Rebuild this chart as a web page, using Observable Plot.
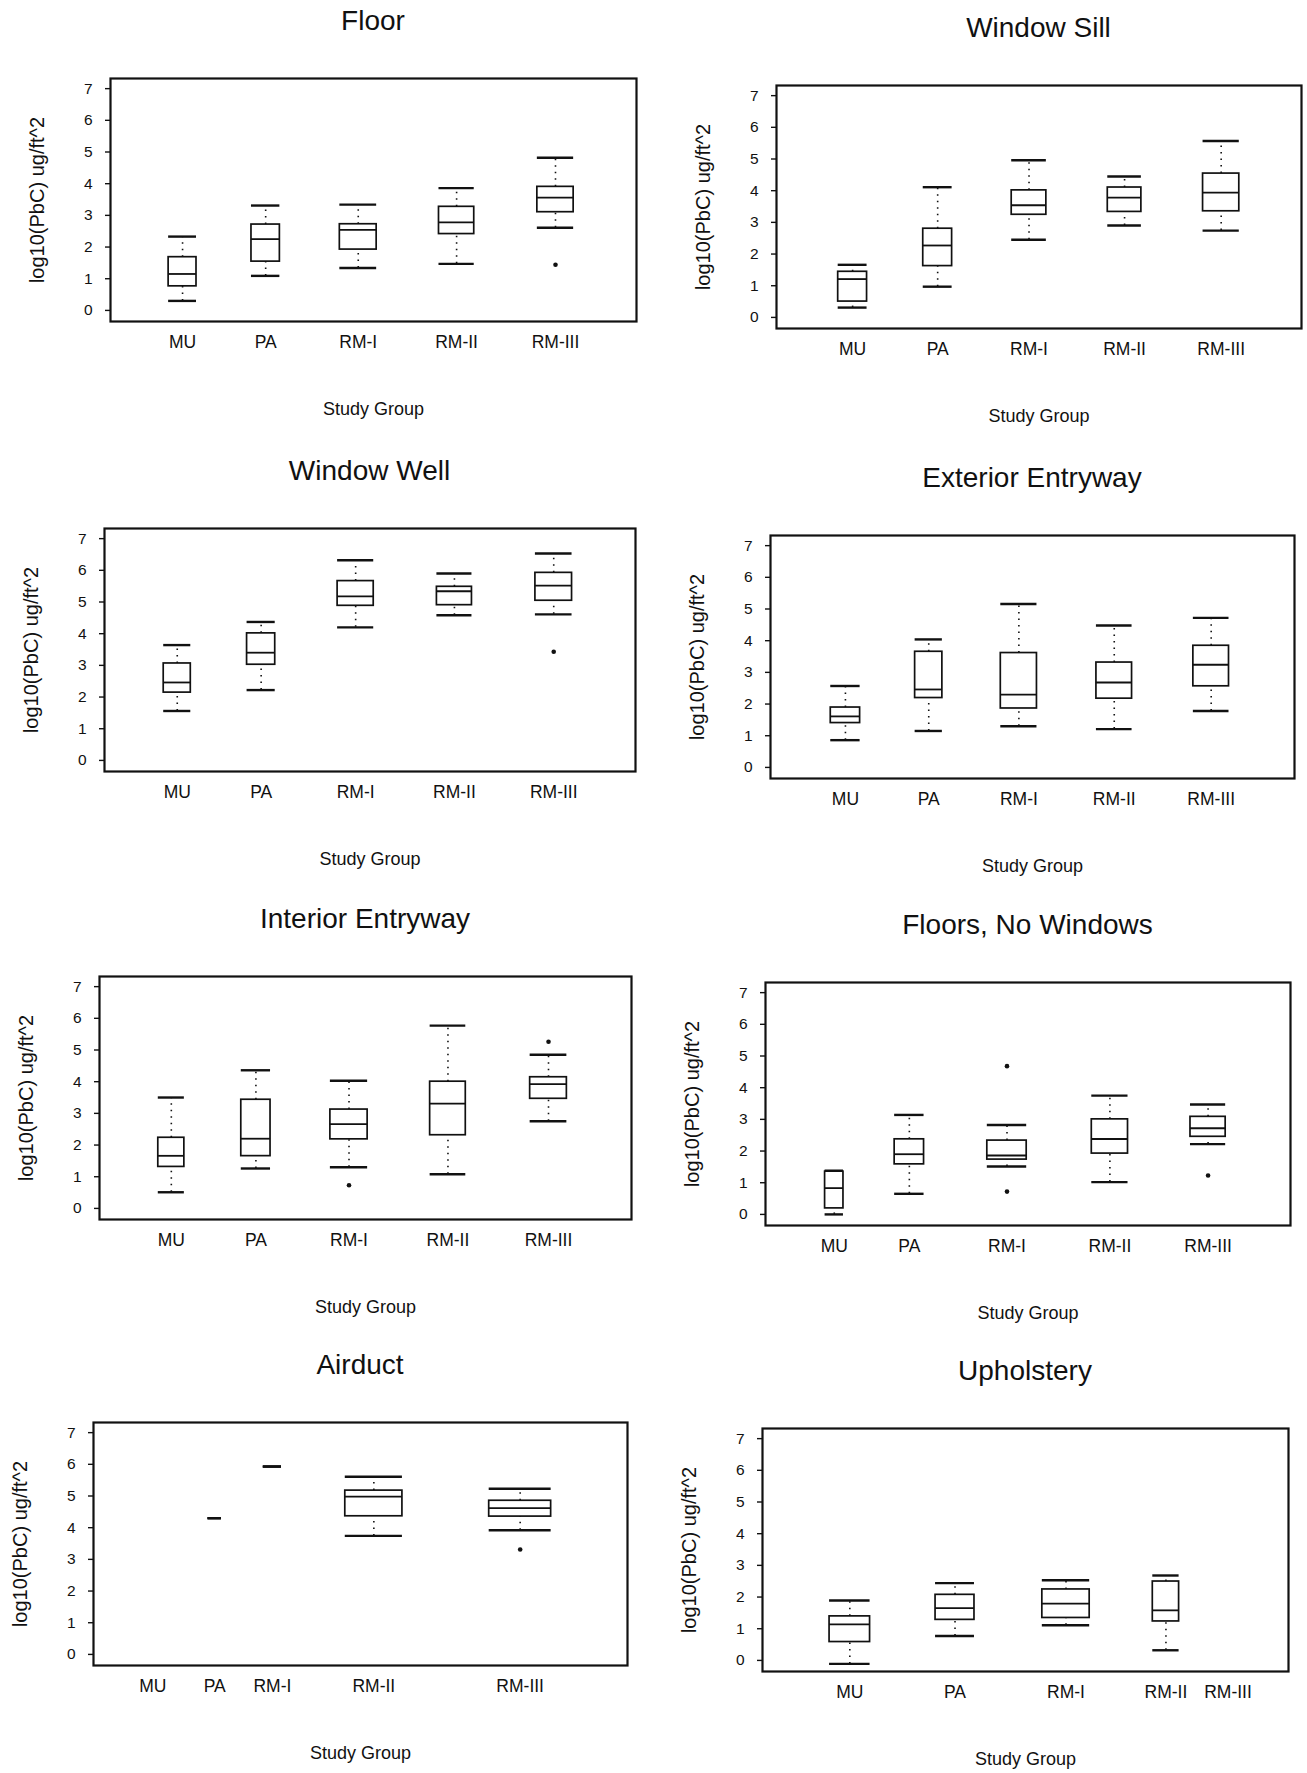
<!DOCTYPE html>
<html>
<head>
<meta charset="utf-8">
<script src="https://cdn.jsdelivr.net/npm/d3@7"></script>
<script src="https://cdn.jsdelivr.net/npm/@observablehq/plot@0.6"></script>
<style>
  body { margin: 0; background: #fff; }
  #page { position: relative; width: 1307px; height: 1773px; overflow: hidden;
          font-family: "Liberation Sans", Arial, Helvetica, sans-serif; color: #111; }
  .title { position: absolute; text-align: center; font-size: 28px; line-height: 30px; white-space: nowrap; }
  .panel { position: absolute; }
</style>
</head>
<body>
<div id="page"></div>
<script>
// Study groups, in axis order
const groups = ["MU", "PA", "RM-I", "RM-II", "RM-III"];

// Box summaries per group, log10(PbC) ug/ft^2:
// [lower whisker, Q1, median, Q3, upper whisker]; null = no samples
const floorStats = [
  [0.30, 0.76, 1.15, 1.68, 2.33],
  [1.09, 1.54, 2.25, 2.71, 3.31],
  [1.34, 1.92, 2.54, 2.72, 3.34],
  [1.47, 2.41, 2.78, 3.27, 3.86],
  [2.61, 3.10, 3.56, 3.90, 4.82]
];
const floorOutliers = [["RM-III", 1.44]];

const windowSillStats = [
  [0.31, 0.50, 1.21, 1.44, 1.66],
  [0.97, 1.62, 2.27, 2.80, 4.11],
  [2.45, 3.24, 3.54, 4.01, 4.96],
  [2.90, 3.33, 3.78, 4.10, 4.45],
  [2.74, 3.35, 3.94, 4.54, 5.57]
];
const windowSillOutliers = [];

const windowWellStats = [
  [1.56, 2.14, 2.46, 3.06, 3.64],
  [2.22, 3.02, 3.40, 4.01, 4.37],
  [4.20, 4.88, 5.18, 5.66, 6.32],
  [4.58, 4.90, 5.34, 5.48, 5.90],
  [4.61, 5.04, 5.52, 5.92, 6.53]
];
const windowWellOutliers = [["RM-III", 3.43]];

const exteriorStats = [
  [0.86, 1.40, 1.61, 1.89, 2.57],
  [1.15, 2.19, 2.46, 3.65, 4.04],
  [1.30, 1.86, 2.30, 3.61, 5.16],
  [1.21, 2.17, 2.68, 3.31, 4.48],
  [1.78, 2.56, 3.24, 3.84, 4.72]
];
const exteriorOutliers = [];

const interiorStats = [
  [0.51, 1.31, 1.66, 2.23, 3.50],
  [1.26, 1.65, 2.20, 3.43, 4.36],
  [1.30, 2.18, 2.66, 3.12, 4.03],
  [1.08, 2.31, 3.31, 4.00, 5.77],
  [2.75, 3.46, 3.92, 4.14, 4.85]
];
const interiorOutliers = [["RM-I", 0.73], ["RM-III", 5.26]];

const noWindowStats = [
  [0.00, 0.19, 0.83, 1.35, 1.38],
  [0.65, 1.58, 1.90, 2.37, 3.14],
  [1.51, 1.73, 1.86, 2.33, 2.82],
  [1.02, 1.92, 2.38, 3.00, 3.75],
  [2.22, 2.45, 2.72, 3.08, 3.47]
];
const noWindowOutliers = [["RM-I", 4.68], ["RM-I", 0.72], ["RM-III", 1.23]];

const airductStats = [
  null,
  [4.30, 4.30, 4.30, 4.30, 4.30],
  [5.93, 5.93, 5.93, 5.93, 5.93],
  [3.74, 4.36, 4.98, 5.17, 5.61],
  [3.92, 4.35, 4.62, 4.85, 5.23]
];
const airductOutliers = [["RM-III", 3.31]];

const upholsteryStats = [
  [-0.11, 0.58, 1.14, 1.39, 1.89],
  [0.77, 1.28, 1.65, 2.07, 2.44],
  [1.11, 1.34, 1.79, 2.24, 2.53],
  [0.32, 1.23, 1.58, 2.49, 2.68],
  null
];
const upholsteryOutliers = [];

const yTicks = [0, 1, 2, 3, 4, 5, 6, 7];
const yLabel = "log10(PbC) ug/ft^2";
const xLabel = "Study Group";

// Page layout: frame box (left, top, width) in page pixels, group slots and box widths
// along a 0–1 horizontal scale.
const panels = [
  {title: "Floor", stats: floorStats, outliers: floorOutliers, frame: [110, 78, 526],
   slots: [0.137, 0.295, 0.471, 0.658, 0.846], widths: [0.053, 0.054, 0.070, 0.067, 0.069]},
  {title: "Window Sill", stats: windowSillStats, outliers: windowSillOutliers, frame: [776, 85, 525],
   slots: [0.145, 0.307, 0.481, 0.663, 0.847], widths: [0.055, 0.055, 0.066, 0.064, 0.069]},
  {title: "Window Well", stats: windowWellStats, outliers: windowWellOutliers, frame: [104, 528, 531],
   slots: [0.137, 0.295, 0.473, 0.659, 0.846], widths: [0.051, 0.053, 0.068, 0.066, 0.069]},
  {title: "Exterior Entryway", stats: exteriorStats, outliers: exteriorOutliers, frame: [770, 535, 524],
   slots: [0.143, 0.302, 0.474, 0.656, 0.841], widths: [0.056, 0.052, 0.069, 0.068, 0.068]},
  {title: "Interior Entryway", stats: interiorStats, outliers: interiorOutliers, frame: [99, 976, 532],
   slots: [0.135, 0.294, 0.469, 0.655, 0.844], widths: [0.049, 0.055, 0.070, 0.067, 0.069]},
  {title: "Floors, No Windows", stats: noWindowStats, outliers: noWindowOutliers, frame: [765, 982, 525],
   slots: [0.131, 0.274, 0.460, 0.656, 0.843], widths: [0.035, 0.056, 0.075, 0.069, 0.067]},
  {title: "Airduct", stats: airductStats, outliers: airductOutliers, frame: [93, 1422, 534],
   slots: [0.111, 0.227, 0.335, 0.525, 0.799], widths: [0.03, 0.025, 0.034, 0.107, 0.116]},
  {title: "Upholstery", stats: upholsteryStats, outliers: upholsteryOutliers, frame: [762, 1428, 526],
   slots: [0.166, 0.366, 0.577, 0.767, 0.885], widths: [0.077, 0.074, 0.090, 0.050, 0.05]}
];

const FRAME_H = 243;
const M = {left: 92, right: 10, top: 12, bottom: 108};
const INK = "#111";
const page = document.getElementById("page");

function drawPanel(p) {
  const [left, top, frameW] = p.frame;
  const slotOf = new Map(groups.map((g, i) => [g, p.slots[i]]));
  const rows = groups.flatMap((g, i) => {
    const s = p.stats[i];
    if (!s) return [];
    const half = p.widths[i] / 2;
    return [{group: g, x: p.slots[i], xa: p.slots[i] - half, xb: p.slots[i] + half,
             lo: s[0], q1: s[1], med: s[2], q3: s[3], hi: s[4]}];
  });
  const boxes = rows.filter(d => d.q3 > d.q1);
  const labels = groups.map((g, i) => ({group: g, x: p.slots[i]}));
  const outs = p.outliers.map(([g, v]) => ({x: slotOf.get(g), v}));

  const chart = Plot.plot({
    width: M.left + frameW + M.right,
    height: M.top + FRAME_H + M.bottom,
    marginLeft: M.left, marginRight: M.right, marginTop: M.top, marginBottom: M.bottom,
    x: {domain: [0, 1], axis: null},
    y: {domain: [-0.35, 7.32], axis: null},
    style: {fontFamily: '"Liberation Sans", Arial, Helvetica, sans-serif', fontSize: "15px", color: INK, background: "transparent", overflow: "visible"},
    marks: [
      Plot.axisY({ticks: yTicks, tickSize: 5, tickPadding: 13, tickFormat: d => String(d), label: null, stroke: INK, strokeWidth: 1.4, fontSize: 15.5}),
      Plot.text(labels, {x: "x", text: "group", frameAnchor: "bottom", dy: 26, fontSize: 17.5, fill: INK}),
      Plot.text([xLabel], {text: d => d, frameAnchor: "bottom", dy: 93, fontSize: 18, fill: INK}),
      Plot.text([yLabel], {text: d => d, frameAnchor: "left", textAnchor: "middle", dx: -73, rotate: -90, fontSize: 20, fill: INK}),
      // whiskers
      Plot.ruleX(boxes, {x: "x", y1: "q3", y2: "hi", stroke: INK, strokeWidth: 1.6, strokeDasharray: "1.5,5"}),
      Plot.ruleX(boxes, {x: "x", y1: "lo", y2: "q1", stroke: INK, strokeWidth: 1.6, strokeDasharray: "1.5,5"}),
      // whisker caps
      Plot.ruleY(rows, {y: "hi", x1: "xa", x2: "xb", stroke: INK, strokeWidth: 2.4}),
      Plot.ruleY(rows, {y: "lo", x1: "xa", x2: "xb", stroke: INK, strokeWidth: 2.4}),
      // boxes and medians
      Plot.rect(boxes, {x1: "xa", x2: "xb", y1: "q1", y2: "q3", fill: "none", stroke: INK, strokeWidth: 1.7}),
      Plot.ruleY(rows, {y: "med", x1: "xa", x2: "xb", stroke: INK, strokeWidth: 1.8}),
      Plot.dot(outs, {x: "x", y: "v", r: 2.3, fill: INK, stroke: null}),
      Plot.frame({stroke: INK, strokeWidth: 2.2})
    ]
  });
  chart.classList.add("panel");
  chart.style.left = (left - M.left) + "px";
  chart.style.top = (top - M.top) + "px";
  page.appendChild(chart);

  const t = document.createElement("div");
  t.className = "title";
  t.textContent = p.title;
  t.style.left = left + "px";
  t.style.width = frameW + "px";
  t.style.top = (top - 57 - 15) + "px";
  page.appendChild(t);
}

panels.forEach(drawPanel);
</script>
</body>
</html>
